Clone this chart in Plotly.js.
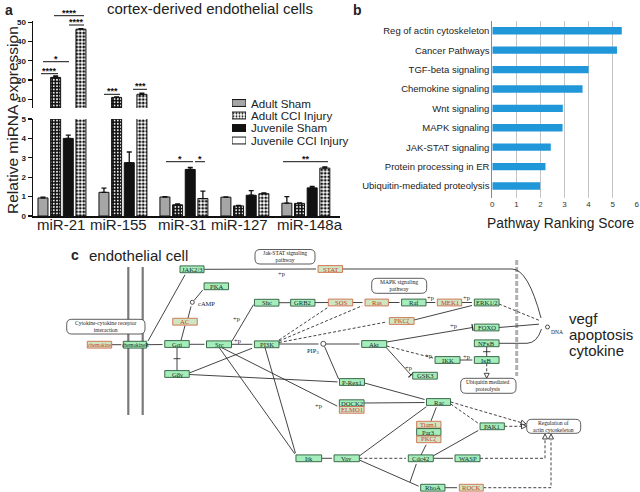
<!DOCTYPE html>
<html><head><meta charset="utf-8">
<script src="https://cdn.plot.ly/plotly-3.0.1.min.js"></script>
<style>html,body{margin:0;padding:0;background:#fff}#c{width:640px;height:492px}</style>
</head><body><div id="c"></div>
<script>
// ---------------- Panel a data ----------------
const mirnas = ['miR-21','miR-155','miR-31','miR-127','miR-148a'];
const groupNames = ['Adult Sham','Adult CCI Injury','Juvenile Sham','Juvenile CCI Injury'];
const adultSham    = [0.93, 1.22, 0.98, 0.97, 0.66];
const adultShamErr = [0.04, 0.22, 0.02, 0.02, 0.34];
const adultCCI     = [21.4, 11.0, 0.58, 0.52, 0.65];
const adultCCIErr  = [0.7, 0.3, 0.04, 0.03, 0.03];
const juvSham      = [4.0, 2.75, 2.40, 1.07, 1.45];
const juvShamErr   = [0.17, 0.55, 0.10, 0.24, 0.08];
const juvCCI       = [46.4, 12.6, 0.90, 1.15, 2.47];
const juvCCIErr    = [0.3, 0.6, 0.38, 0.04, 0.06];
const upperTicks = [10,20,30,40,50];
const lowerTicks = [0,1,2,3,4,5];
// ---------------- Panel b data ----------------
const pathways = ['Reg of actin cytoskeleton','Cancer Pathways','TGF-beta signaling','Chemokine signaling','Wnt signaling','MAPK signaling','JAK-STAT signaling','Protein processing in ER','Ubiquitin-mediated proteolysis'];
const rankScores = [5.38, 5.18, 4.0, 3.75, 2.93, 2.92, 2.43, 2.21, 1.99];
const scoreTicks = [0,1,2,3,4,5,6];

// ---------------- helpers ----------------
const W = 640, H = 492;
const dy = (top, bot) => [1 - bot / H, 1 - top / H];
const X = 'x4', Y = 'y5';
const shapes = [], ann = [];
function line(x0,y0,x1,y1,o={}){shapes.push({type:'line',xref:X,yref:Y,x0,y0,x1,y1,layer:'above',line:{color:o.c||'#222',width:o.w||0.85,dash:o.d||'solid'}});}
function path(p,o={}){shapes.push({type:'path',xref:X,yref:Y,path:p,layer:'above',fillcolor:o.f||'rgba(0,0,0,0)',line:{color:o.c||'#222',width:o.w||0.85,dash:o.d||'solid'}});}
function text(x,y,t,o={}){ann.push({xref:o.xr||X,yref:Y,x,y,text:t,showarrow:false,xshift:o.dx||0,xanchor:o.xa||'center',yanchor:o.ya||'middle',textangle:o.ang||0,borderpad:0,font:{family:o.fam||'Liberation Sans, Arial, sans-serif',size:o.s||10,color:o.c||'#222',weight:o.b?'bold':'normal'}});}
function head(x0,y0,x1,y1){const L=Math.hypot(x1-x0,y1-y0),ux=(x1-x0)/L,uy=(y1-y0)/L;
  ann.push({xref:X,yref:Y,axref:X,ayref:Y,x:x1,y:y1,ax:x1-ux*3,ay:y1-uy*3,text:'',showarrow:true,arrowhead:2,arrowsize:1.7,arrowwidth:0.85,arrowcolor:'#222',standoff:0,startstandoff:0});}
function hollow(x0,y0,x1,y1){const L=Math.hypot(x1-x0,y1-y0),ux=(x1-x0)/L,uy=(y1-y0)/L;
  const bx=x1-ux*5,by=y1-uy*5;
  path(`M${x1},${y1} L${bx-uy*2.5},${by+ux*2.5} L${bx+uy*2.5},${by-ux*2.5} Z`,{f:'#fff'});}
function edge(x0,y0,x1,y1,k){
  const L=Math.hypot(x1-x0,y1-y0),ux=(x1-x0)/L,uy=(y1-y0)/L;
  if(k==='a'){line(x0,y0,x1-ux*2,y1-uy*2);head(x0,y0,x1,y1);}
  else if(k==='d'){line(x0,y0,x1-ux*2,y1-uy*2,{d:'3px,2px'});head(x0,y0,x1,y1);}
  else if(k==='l'){line(x0,y0,x1,y1);}
  else if(k==='i'){line(x0,y0,x1,y1);line(x1-uy*3.5,y1+ux*3.5,x1+uy*3.5,y1-ux*3.5,{w:1.2});}
  else if(k==='dh'){line(x0,y0,x1-ux*5,y1-uy*5,{d:'3px,2px'});hollow(x0,y0,x1,y1);}
}

// ---------------- Panel a traces ----------------
const idx = mirnas.map((_,i)=>i);
const series = [
  {name:groupNames[0],y:adultSham,e:adultShamErr,color:'#a6a6a6',pat:null},
  {name:groupNames[1],y:adultCCI,e:adultCCIErr,color:'#111',pat:{shape:'.',bgcolor:'#111',fgcolor:'#fff',size:3.2,solidity:0.25}},
  {name:groupNames[2],y:juvSham,e:juvShamErr,color:'#111',pat:null},
  {name:groupNames[3],y:juvCCI,e:juvCCIErr,color:'#fff',pat:{shape:'.',bgcolor:'#fff',fgcolor:'#111',size:3.5,solidity:0.5}}
];
const traces = [];
['y','y2'].forEach(ya=>{
  series.forEach(s=>{
    const m={color:s.color,line:{color:'#111',width:1}};
    if(s.pat) m.pattern=s.pat;
    traces.push({type:'bar',name:s.name,x:idx,y:s.y,xaxis:'x',yaxis:ya,marker:m,
      error_y:{type:'data',array:s.e,arrayminus:s.e.map(()=>0),symmetric:false,color:'#111',thickness:1.3,width:2.5},
      hoverinfo:'skip'});
  });
});
// legend swatches
traces.push({type:'bar',orientation:'h',x:groupNames.map(()=>1),y:groupNames.map((_,i)=>i),xaxis:'x3',yaxis:'y4',width:0.55,
  marker:{color:['#a6a6a6','#111','#111','#fff'],line:{color:'#111',width:1},
    pattern:{shape:['','.','','.'],bgcolor:['#a6a6a6','#111','#111','#fff'],fgcolor:['#fff','#fff','#fff','#111'],size:3,solidity:[0.5,0.3,0.5,0.5]}},hoverinfo:'skip'});
groupNames.forEach((g,i)=>text(250,103+i*12.4,g,{xa:'left',s:11.6}));
// category labels tied to the x axis (small horizontal nudges as in the original figure)
const labelNudge = [-1,-4,-1.5,-5,4];
mirnas.forEach((m,i)=>text(i,224,m,{xr:'x',s:15,dx:labelNudge[i]}));
// ---------------- Panel b trace ----------------
traces.push({type:'bar',orientation:'h',x:rankScores,y:pathways,xaxis:'x2',yaxis:'y3',width:0.38,marker:{color:'#2097d9'},hoverinfo:'skip'});
traces.push({type:'scatter',x:[],y:[],xaxis:'x4',yaxis:'y5',hoverinfo:'skip'});

// ---------------- Panel a annotations ----------------
text(4,10,'a',{s:14,b:true,xa:'left'});
text(210,8,'cortex-derived endothelial cells',{s:15});
text(12,120,'Relative miRNA expression',{s:15.5,ang:-90});
const brackets = [[41,58,73.7,'****'],[43,69,61.7,'*'],[54,84,15.7,'****'],[69,84,25,'****'],
  [104,120,94.3,'***'],[133,147,89.3,'***'],[166,193,161.7,'*'],[195,205,161.7,'*'],[283,328,161.7,'**']];
brackets.forEach(b=>{line(b[0],b[2],b[1],b[2],{c:'#111',w:1});text((b[0]+b[1])/2,b[2]-3.2,b[3],{s:9,b:true,c:'#111'});});
// ---------------- Panel b annotations ----------------
text(357,10,'b',{s:14,b:true});
text(561,223,'Pathway Ranking Score',{s:13.8});

// ---------------- Panel c diagram ----------------
text(75,255,'c',{s:14,b:true});
text(88,255,'endothelial cell',{s:15,xa:'left'});
// membrane + nuclear boundary
line(128.3,267,128.3,415,{c:'#7a7a7a',w:2.2});
line(142.7,267,142.7,415,{c:'#7a7a7a',w:2.2});
line(516.7,260,516.7,376,{c:'#b0b0b0',w:3,d:'5px,2px'});
// edges [x0,y0,x1,y1,kind]
const edges = [
 [111.7,344.7,123.3,344.7,'a'],[146.7,344.7,164.5,344.5,'a'],[148,341,186,273,'a'],
 [181,340.5,185,325.5,'l'],[188,318,191.5,304.5,'a'],[194,300.5,204,288.5,'a'],
 [177,347.5,177,370.5,'l'],[189.3,344.3,206.5,344.3,'a'],[231.7,344.3,254.3,344.3,'a'],
 [232,341,254.5,303,'a'],[279,302.7,290.7,302.7,'l'],[315,302.6,328.3,302.5,'l'],
 [352.7,302.5,364.5,302.5,'a'],[388.3,302.5,401.5,302.5,'a'],[426,302.5,437.3,302.5,'a'],
 [461.7,302.5,474,302.5,'a'],[204,269.3,318,269,'a'],
 [279,341,364,305,'d'],[279,342.5,389,321.5,'d'],[279,340,330,306,'d'],
 [279,344,320.5,344,'a'],[326,344,361.5,344,'a'],[324.5,346.5,339.5,381,'a'],
 [414,320,474,305,'a'],[499,304,542,321.5,'d'],
 [386.7,342,472.5,327.5,'i'],[499,327.5,541,324,'a'],
 [486.7,346.7,486.7,356.7,'l'],[486.7,363.3,486.7,378.3,'dh'],
 [386.7,346,435,358.5,'d'],[460,360,474.3,360,'a'],[386,347.3,411,375,'i'],
 [189.3,373,254,347.5,'a'],[189.3,374.5,339.5,382,'a'],
 [219,347.3,296,455.5,'a'],[265,347.5,296,455,'a'],[221,347.3,339,407,'a'],
 [364.5,383,426.5,400,'a'],[364,403,426.5,402.5,'a'],[321.7,458.3,334,458.3,'a'],
 [359.3,456,428,405.5,'a'],[359.3,458.3,408,458.3,'d'],[359.3,460,420.5,487,'a'],
 [410,482,417,462,'a'],[421,455,427,443,'a'],[431,421,437,405.5,'a'],
 [433,456,480,429.5,'a'],[450.7,404,480,424.5,'d'],[450.7,402,526,424,'dh'],
 [504.3,426.3,526.5,426.3,'dh'],[433.3,458.3,455,458.3,'a'],[445,487.7,459,487.7,'a']
];
edges.forEach(e=>edge(...e));
// cross bars
line(173.5,358.7,180.5,358.7);line(483,351.7,490.5,351.7);
// curved / bent paths
path('M342.7,269 L512,269 Q528,269 541,318');head(539,314,542,319.5);
path('M499,343.3 L527,343.3 Q537,343 541.5,329');head(540.8,331,541.8,327.5);
path('M480,458.3 L545,458.3 L545,440',{d:'3px,2px'});hollow(545,445,545,434);
path('M483.3,487.7 L551,487.7 L551,440',{d:'3px,2px'});hollow(551,445,551,434);
// circles
shapes.push({type:'circle',xref:X,yref:Y,x0:190.3,y0:300.3,x1:194.3,y1:304.3,line:{color:'#222',width:0.8},fillcolor:'#fff',layer:'above'});
shapes.push({type:'circle',xref:X,yref:Y,x0:320.8,y0:341.3,x1:325.8,y1:346.3,line:{color:'#222',width:0.8},fillcolor:'#fff',layer:'above'});
shapes.push({type:'circle',xref:X,yref:Y,x0:545.5,y0:325,x1:549.5,y1:329,line:{color:'#222',width:0.8},fillcolor:'#fff',layer:'above'});
const SERIF='Liberation Serif, DejaVu Serif, serif';
text(197,303.5,'cAMP',{xa:'left',s:6.5,fam:SERIF});
text(313,350.5,'PIP<sub>3</sub>',{s:6.5,fam:SERIF});
text(557,331.5,'DNA',{s:5.5,fam:SERIF});
const plabels=[[237,340.5],[236,318],[430.5,297],[466,297],[281.7,273.5],[453,325],[428,355],[466.7,356.5],[408,367],[318,405]];
plabels.forEach(p=>text(p[0],p[1],'+p',{s:6.5,fam:SERIF}));
// rounded pathway boxes
function rbox(x0,y0,x1,y1,t){const r=5;
  path(`M${x0+r},${y0} L${x1-r},${y0} Q${x1},${y0} ${x1},${y0+r} L${x1},${y1-r} Q${x1},${y1} ${x1-r},${y1} L${x0+r},${y1} Q${x0},${y1} ${x0},${y1-r} L${x0},${y0+r} Q${x0},${y0} ${x0+r},${y0} Z`,{f:'#fff',c:'#333',w:0.8});
  text((x0+x1)/2,(y0+y1)/2,t,{s:5.6,fam:SERIF,c:'#222'});}
rbox(66.7,319.3,145,334,'Cytokine-cytokine receptor<br>interaction');
rbox(255,249.5,315,264,'Jak-STAT signaling<br>pathway');
rbox(371.7,278.3,426.7,293.3,'MAPK signaling<br>pathway');
rbox(460.7,378.3,516,393.3,'Ubiquitin mediated<br>proteolysis');
rbox(526.7,419.3,580.7,433.3,'Regulation of<br>actin cytoskeleton');
// nodes [label, cx, cy, w, kind]
const nodes = [
 ['chemokine',99.5,344.7,24.4,'r'],['chemokineR',135,344.7,23.4,'g'],['JAK2/3',192,269.3,24,'g'],
 ['PKA',216.3,286.3,24.5,'g'],['AC',185,321.7,24.5,'r'],['Gαi',177,344,24.5,'g'],['Gβγ',177,374,24.5,'g'],
 ['Src',219,344.3,25,'g'],['Shc',266.7,302.7,24.5,'g'],['PI3K',266.7,344.3,24.5,'g'],['GRB2',302.8,302.7,24.3,'g'],
 ['SOS',340.5,302.5,24.4,'r'],['Ras',376.7,302.5,23.4,'r'],['Raf',413.8,302.5,24.4,'g'],['MEK1',449.5,302.5,24.4,'r'],
 ['ERK1/2',486.7,302.5,24.7,'g'],['STAT',330.3,269,24.5,'r'],['PKCζ',401.7,321,24.7,'r'],['Akt',374.2,344,25,'g'],
 ['FOXO',486.7,327.5,24.7,'g'],['NFκB',486.7,343.3,24.7,'g'],['IκB',486.7,360,24.7,'g'],['IKK',447.5,360,25,'g'],
 ['GSK3',425,375.7,24.6,'g'],['P-Rex1',352,382,25,'g'],['DOCK2',351.7,403.2,24.7,'g'],['ELMO1',351.7,409.8,24.7,'r'],
 ['Rac',438.5,402,24,'g'],['Tiam1',428.8,424.7,24.3,'r'],['Par3',428.8,432,24.3,'g'],['PKCζ',428.8,439.3,24.3,'r'],
 ['PAK1',492.2,426.3,24.3,'g'],['Itk',308.8,458.3,25.7,'g'],['Vav',346.7,458.3,25.3,'g'],['Cdc42',420.8,458.3,25,'g'],
 ['WASP',467.5,458.3,25,'g'],['RhoA',432.8,487.7,24.3,'g'],['ROCK',471.3,487.7,24,'r']
];
nodes.forEach(n=>{const [t,cx,cy,w,k]=n,h=6.8;
  shapes.push({type:'rect',xref:X,yref:Y,x0:cx-w/2,x1:cx+w/2,y0:cy-h/2,y1:cy+h/2,layer:'above',
    fillcolor:k==='g'?'#a5eebb':'#cfe6c2',line:{color:k==='g'?'#2c5a3c':'#cf6a48',width:0.9}});
  text(cx,cy,t,{s:t.length>7?5.3:6.6,fam:SERIF,c:k==='g'?'#152a1c':'#cc3a1e'});
});
text(568,318,'vegf',{xa:'left',s:15});
text(568,334,'apoptosis',{xa:'left',s:15});
text(568,350,'cytokine',{xa:'left',s:15});

const axA = {showline:true,linecolor:'#111',linewidth:1.5,ticks:'outside',ticklen:4,tickwidth:1.2,tickcolor:'#111',showgrid:false,zeroline:false,tickfont:{size:8,weight:'bold',color:'#222'}};
const layout = {
  width:W,height:H,margin:{l:0,r:0,t:0,b:0,pad:0},
  paper_bgcolor:'#fff',plot_bgcolor:'rgba(0,0,0,0)',showlegend:false,
  barmode:'group',bargap:0.17,bargroupgap:0.21,
  font:{family:'Liberation Sans, Arial, sans-serif',color:'#222'},
  xaxis:{domain:[33/W,340/W],range:[-0.475,4.56],anchor:'y',showticklabels:false,ticks:'',showline:true,linecolor:'#111',linewidth:1.5,showgrid:false,zeroline:false},
  yaxis:Object.assign({domain:dy(119,216),range:[0,5],anchor:'x',tickvals:lowerTicks},axA),
  yaxis2:Object.assign({domain:dy(20.7,108),range:[5.5,50.8],anchor:'x',tickvals:upperTicks},axA),
  xaxis2:{domain:[492.3/W,636.7/W],range:[0,6],anchor:'y3',tickvals:scoreTicks,showgrid:true,gridcolor:'#c4c4c4',gridwidth:1,zeroline:false,showline:false,ticks:'',tickfont:{size:8,color:'#333'}},
  yaxis3:{domain:dy(20.7,198),anchor:'x2',type:'category',range:[8.62,-0.52],showline:true,linecolor:'#8a8a8a',linewidth:1,ticks:'',tickfont:{size:9.5,color:'#222'},showgrid:false,zeroline:false},
  xaxis3:{domain:[232/W,246/W],range:[0,1],anchor:'y4',visible:false},
  yaxis4:{domain:dy(96.75,146.75),range:[3.5,-0.5],anchor:'x3',visible:false},
  xaxis4:{domain:[0,1],range:[0,W],anchor:'y5',visible:false},
  yaxis5:{domain:[0,1],range:[H,0],anchor:'x4',visible:false},
  shapes:shapes,annotations:ann
};
Plotly.newPlot('c',traces,layout,{staticPlot:true,displayModeBar:false});
</script></body></html>
